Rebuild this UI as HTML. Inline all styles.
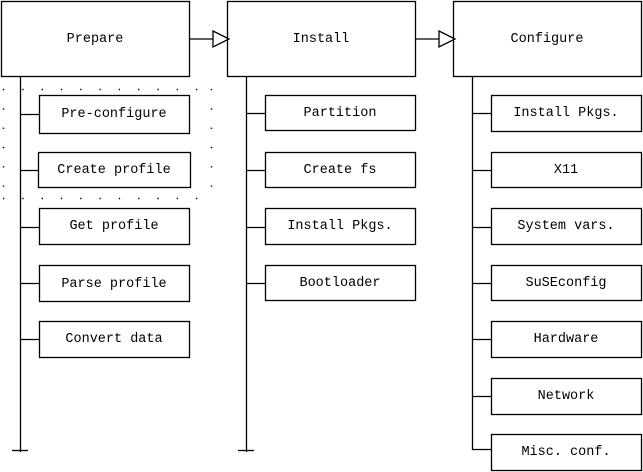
<!DOCTYPE html>
<html><head><style>body{margin:0;background:#fff}svg{display:block}text{font-family:"Liberation Mono",monospace;font-size:13.5px;text-anchor:middle;dominant-baseline:central;fill:#000}</style></head><body>
<svg width="643" height="472" viewBox="0 0 643 472" xmlns="http://www.w3.org/2000/svg">
<g fill="none" stroke="#000" stroke-width="1.3">
<rect x="1.5" y="1.5" width="188" height="75"/>
<rect x="227.5" y="1.5" width="188" height="75"/>
<rect x="453.5" y="1.5" width="188" height="75"/>
<line x1="189" y1="39" x2="213" y2="39"/><polygon points="213,31 229,39 213,47"/>
<line x1="415" y1="39" x2="439" y2="39"/><polygon points="439,31 455,39 439,47"/>
<line x1="20.5" y1="76" x2="20.5" y2="452"/><line x1="12" y1="450.5" x2="28" y2="450.5"/>
<line x1="246.5" y1="76" x2="246.5" y2="452"/><line x1="238" y1="450.5" x2="254" y2="450.5"/>
<line x1="472.5" y1="76" x2="472.5" y2="450"/>
<rect x="39.5" y="95.5" width="150" height="38"/>
<rect x="38.5" y="152.5" width="152" height="35"/>
<rect x="39.5" y="208.5" width="150" height="36"/>
<rect x="39.5" y="265.5" width="150" height="36"/>
<rect x="39.5" y="321.5" width="150" height="36"/>
<rect x="265.5" y="95.5" width="150" height="35"/>
<rect x="265.5" y="152.5" width="150" height="35"/>
<rect x="265.5" y="208.5" width="150" height="36"/>
<rect x="265.5" y="265.5" width="150" height="35"/>
<rect x="491.5" y="95.5" width="150" height="36"/>
<rect x="491.5" y="152.5" width="150" height="35"/>
<rect x="491.5" y="208.5" width="150" height="36"/>
<rect x="491.5" y="265.5" width="150" height="35"/>
<rect x="491.5" y="321.5" width="150" height="36"/>
<rect x="491.5" y="378.5" width="150" height="36"/>
<rect x="491.5" y="434.5" width="150" height="36"/>
<path d="M20 114.5H39M20 170.5H38M20 227.5H39M20 283.5H39M20 339.5H39M246 113.5H265M246 170.5H265M246 227.5H265M246 283.5H265M472 113.5H491M472 170.5H491M472 227.5H491M472 283.5H491M472 339.5H491M472 396.5H491M472 449.5H491"/>
<path d="M3 89.5H212M3 198.5H212M3.5 89V198M211.5 89V198" stroke-dasharray="1.3 18" stroke-width="1.5"/>
</g>
<g transform="translate(0,0.5)">
<text x="95" y="39">Prepare</text><text x="321" y="39">Install</text><text x="547" y="39">Configure</text>
<text x="114" y="114">Pre-configure</text><text x="114" y="170">Create profile</text><text x="114" y="226">Get profile</text><text x="114" y="284">Parse profile</text><text x="114" y="339">Convert data</text>
<text x="340" y="113">Partition</text><text x="340" y="170">Create fs</text><text x="340" y="226">Install Pkgs.</text><text x="340" y="283">Bootloader</text>
<text x="566" y="113">Install Pkgs.</text><text x="566" y="170">X11</text><text x="566" y="226">System vars.</text><text x="566" y="283">SuSEconfig</text><text x="566" y="339">Hardware</text><text x="566" y="396">Network</text><text x="566" y="452">Misc. conf.</text>
</g>
</svg></body></html>
